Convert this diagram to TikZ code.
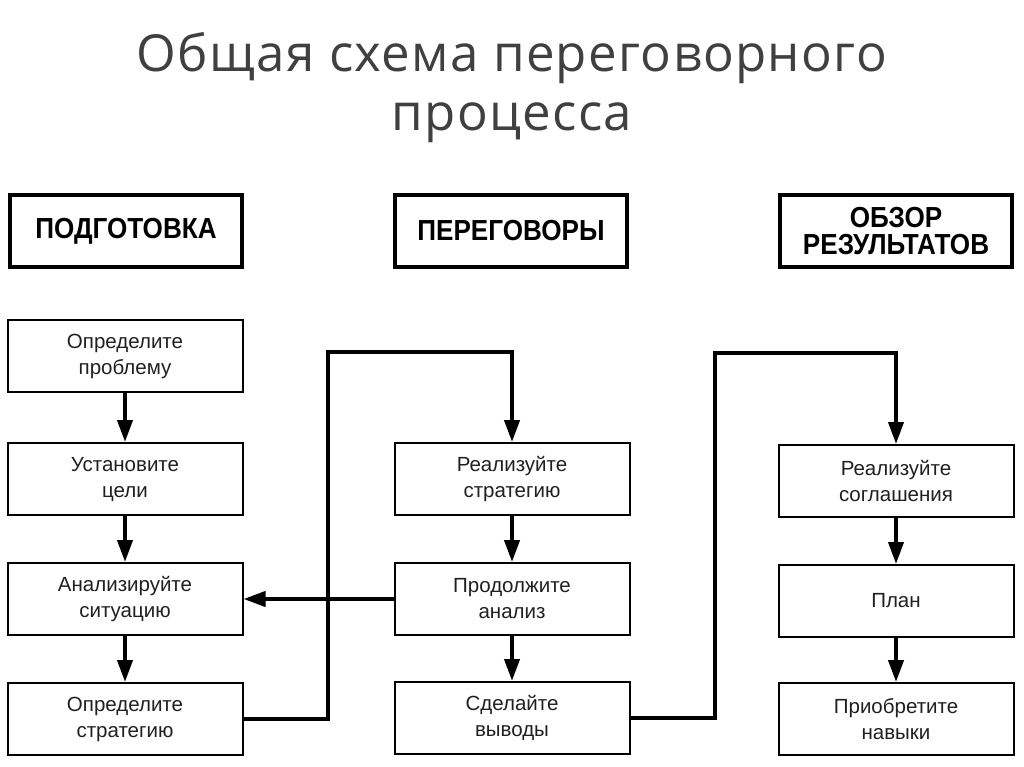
\documentclass[tikz,border=0pt]{standalone}
\usepackage{fontspec}
\setmainfont{Liberation Sans}
\newfontfamily\titlefont[LetterSpace=2.5]{Open Sans}
\newfontfamily\headfont[FakeStretch=0.9]{Liberation Sans}
\usetikzlibrary{arrows.meta}

\definecolor{titlegray}{HTML}{404040}
\definecolor{boxtext}{HTML}{202020}

\begin{document}
\begin{tikzpicture}[x=1pt,y=-1pt,
    headbox/.style={draw, line width=3.5pt, minimum width=232pt, minimum height=72pt,
      align=center, font=\headfont\bfseries\fontsize{29}{27}\selectfont},
    stepbox/.style={draw, line width=2pt, minimum width=235pt, minimum height=72pt,
      align=center, text=boxtext, font=\fontsize{20.5}{26}\selectfont},
    link/.style={line width=4pt},
    flow/.style={link, -{Triangle[width=15pt,length=22pt]}}]
  \useasboundingbox (0,0) rectangle (1024,767);

  % Title
  \node[text=titlegray, align=center, font=\titlefont\fontsize{51}{59}\selectfont]
    (title) at (512,88) {Общая схема переговорного\\процесса};

  % Stage headers
  \node[headbox] (prep) at (126,231) {ПОДГОТОВКА};
  \node[headbox] (talk) at (511,231) {ПЕРЕГОВОРЫ};
  \node[headbox] (review) at (896,231) {ОБЗОР\\РЕЗУЛЬТАТОВ};

  % Preparation steps
  \node[stepbox] (p1) at (125,356) {Определите\\проблему};
  \node[stepbox] (p2) at (125,479) {Установите\\цели};
  \node[stepbox] (p3) at (125,599) {Анализируйте\\ситуацию};
  \node[stepbox] (p4) at (125,719) {Определите\\стратегию};

  % Negotiation steps
  \node[stepbox] (n1) at (512,479) {Реализуйте\\стратегию};
  \node[stepbox] (n2) at (512,599) {Продолжите\\анализ};
  \node[stepbox] (n3) at (512,718) {Сделайте\\выводы};

  % Review steps
  \node[stepbox] (v1) at (896,481) {Реализуйте\\соглашения};
  \node[stepbox] (v2) at (896,601) {План};
  \node[stepbox] (v3) at (896,719) {Приобретите\\навыки};

  % Bends of the long connectors
  \coordinate (bendA) at (328,352);
  \coordinate (bendB) at (715,353);

  % Arrows inside columns
  \draw[flow] (p1) -- (p2);
  \draw[flow] (p2) -- (p3);
  \draw[flow] (p3) -- (p4);
  \draw[flow] (n1) -- (n2);
  \draw[flow] (n2) -- (n3);
  \draw[flow] (v1) -- (v2);
  \draw[flow] (v2) -- (v3);

  % Arrows between columns
  \draw[flow] (p4.east) -| (bendA) -| (n1.north);
  \draw[flow] (n2.west) -- (p3.east);
  \draw[flow] (n3.east) -| (bendB) -| (v1.north);
\end{tikzpicture}
\end{document}
